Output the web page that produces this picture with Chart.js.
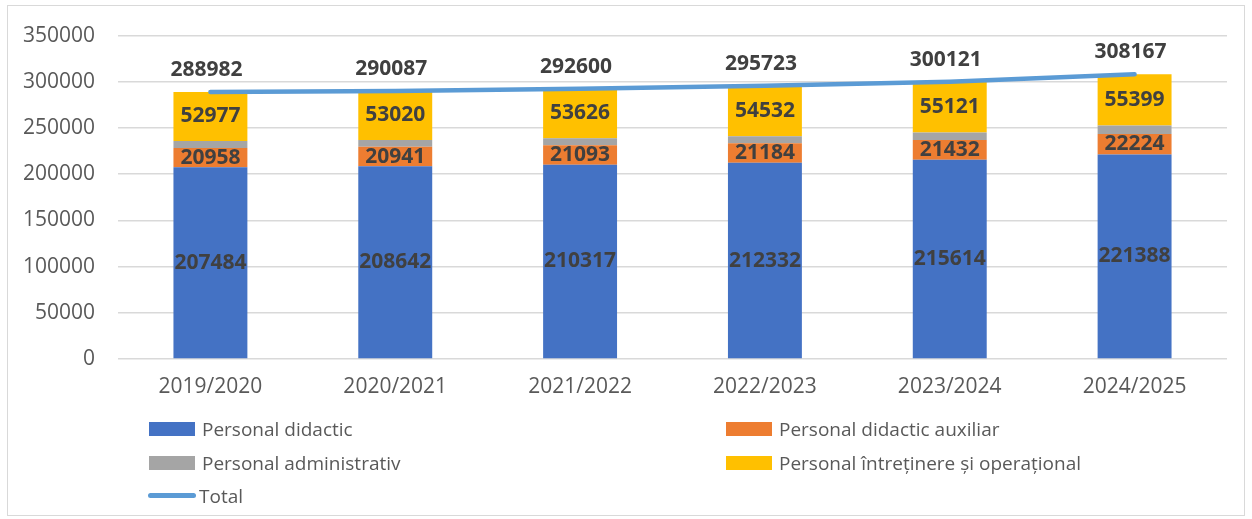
<!DOCTYPE html>
<html>
<head>
<meta charset="utf-8">
<script src="https://cdn.jsdelivr.net/npm/chart.js@4.4.1/dist/chart.umd.min.js"></script>
<style>
    body { margin: 0; background: #fff; font-family: 'Open Sans', sans-serif; }
    #wrap { position: relative; width: 1252px; height: 519px; }
    #frame { position: absolute; left: 7px; top: 5px; width: 1238px; height: 511px; border: 1px solid #D9D9D9; box-sizing: border-box; }
    canvas { position: absolute; left: 0; top: 0; }
    .leg { position: absolute; font-size: 19px; color: #595959; line-height: 24px; white-space: nowrap; }
    .leg .box { position: absolute; left: 0; top: 5px; width: 46px; height: 14px; }
    .leg .ln { position: absolute; left: 0; top: 9px; width: 48px; height: 5px; border-radius: 3px; }
    .leg span.t { position: absolute; top: 0; }
</style>
</head>
<body>
<div id="wrap">
    <div id="frame"></div>
    <canvas id="chart" width="1252" height="519"></canvas>
    <div id="legend"></div>
</div>
<script>
// Date din grafic
const years = ['2019/2020', '2020/2021', '2021/2022', '2022/2023', '2023/2024', '2024/2025'];
const didactic = [207484, 208642, 210317, 212332, 215614, 221388];
const auxiliar = [20958, 20941, 21093, 21184, 21432, 22224];
const administrativ = [7563, 7484, 7564, 7675, 7954, 9156];
const operational = [52977, 53020, 53626, 54532, 55121, 55399];
const total = [288982, 290087, 292600, 295723, 300121, 308167];
const yTicks = [0, 50000, 100000, 150000, 200000, 250000, 300000, 350000];

const colors = {
    didactic: '#4472C4',
    auxiliar: '#ED7D31',
    administrativ: '#A5A5A5',
    operational: '#FFC000',
    total: '#5B9BD5'
};

// Plugin pentru etichetele de date
const labelPlugin = {
    id: 'valueLabels',
    afterDatasetsDraw(chart) {
        const ctx = chart.ctx;
        ctx.save();
        ctx.font = 'bold 21px "Open Sans", sans-serif';
        ctx.fillStyle = '#404040';
        ctx.textAlign = 'center';
        ctx.textBaseline = 'middle';
        chart.data.datasets.forEach(function(ds, i) {
            if (ds.noLabels) return;
            const meta = chart.getDatasetMeta(i);
            meta.data.forEach(function(el, j) {
                if (ds.type === 'line') {
                    ctx.fillText(ds.data[j], el.x - 4, el.y - 22);
                } else {
                    ctx.fillText(ds.data[j], el.x, (el.y + el.base) / 2);
                }
            });
        });
        ctx.restore();
    }
};

new Chart(document.getElementById('chart'), {
    data: {
        labels: years,
        datasets: [
            {
                type: 'line',
                label: 'Total',
                data: total,
                borderColor: colors.total,
                borderWidth: 4.5,
                borderCapStyle: 'round',
                pointRadius: 0,
                tension: 0,
                stack: 'total',
                order: 0
            },
            { type: 'bar', label: 'Personal didactic', data: didactic, backgroundColor: colors.didactic, stack: 'bars', order: 1 },
            { type: 'bar', label: 'Personal didactic auxiliar', data: auxiliar, backgroundColor: colors.auxiliar, stack: 'bars', order: 1 },
            { type: 'bar', label: 'Personal administrativ', data: administrativ, backgroundColor: colors.administrativ, stack: 'bars', order: 1, noLabels: true },
            { type: 'bar', label: 'Personal întreținere și operațional', data: operational, backgroundColor: colors.operational, stack: 'bars', order: 1 }
        ]
    },
    options: {
        responsive: false,
        animation: false,
        layout: { padding: { left: 0, right: 25, top: 24, bottom: 0 } },
        datasets: { bar: { barPercentage: 0.4, categoryPercentage: 1 } },
        plugins: {
            legend: { display: false },
            tooltip: { enabled: false }
        },
        scales: {
            x: {
                stacked: true,
                grid: { display: false, drawTicks: false },
                border: { display: false },
                ticks: { color: '#595959', font: { size: 21, family: 'Open Sans' }, padding: 15 },
                afterFit: function(scale) { scale.height = 160; }
            },
            y: {
                stacked: true,
                min: 0,
                max: 350000,
                afterBuildTicks: function(scale) {
                    scale.ticks = yTicks.map(function(v) { return { value: v }; });
                },
                grid: { color: '#D9D9D9', lineWidth: 1.5, drawTicks: false },
                border: { display: false },
                ticks: {
                    color: '#595959',
                    font: { size: 21, family: 'Open Sans' },
                    padding: 23,
                    callback: function(value) { return String(value); }
                },
                afterFit: function(scale) { scale.width = 118; }
            }
        }
    },
    plugins: [labelPlugin]
});

// Legenda HTML (2 coloane)
const legendItems = [
    { text: 'Personal didactic', color: colors.didactic, x: 149, y: 417 },
    { text: 'Personal didactic auxiliar', color: colors.auxiliar, x: 726, y: 417 },
    { text: 'Personal administrativ', color: colors.administrativ, x: 149, y: 451 },
    { text: 'Personal întreținere și operațional', color: colors.operational, x: 726, y: 451 },
    { text: 'Total', color: colors.total, x: 148, y: 484, line: true }
];
const legend = document.getElementById('legend');
legendItems.forEach(function(item) {
    const d = document.createElement('div');
    d.className = 'leg';
    d.style.left = item.x + 'px';
    d.style.top = item.y + 'px';
    d.innerHTML = '<div class="' + (item.line ? 'ln' : 'box') + '" style="background:' + item.color + '"></div>' +
        '<span class="t" style="left:' + (item.line ? 51 : 53) + 'px">' + item.text + '</span>';
    legend.appendChild(d);
});
</script>
</body>
</html>
